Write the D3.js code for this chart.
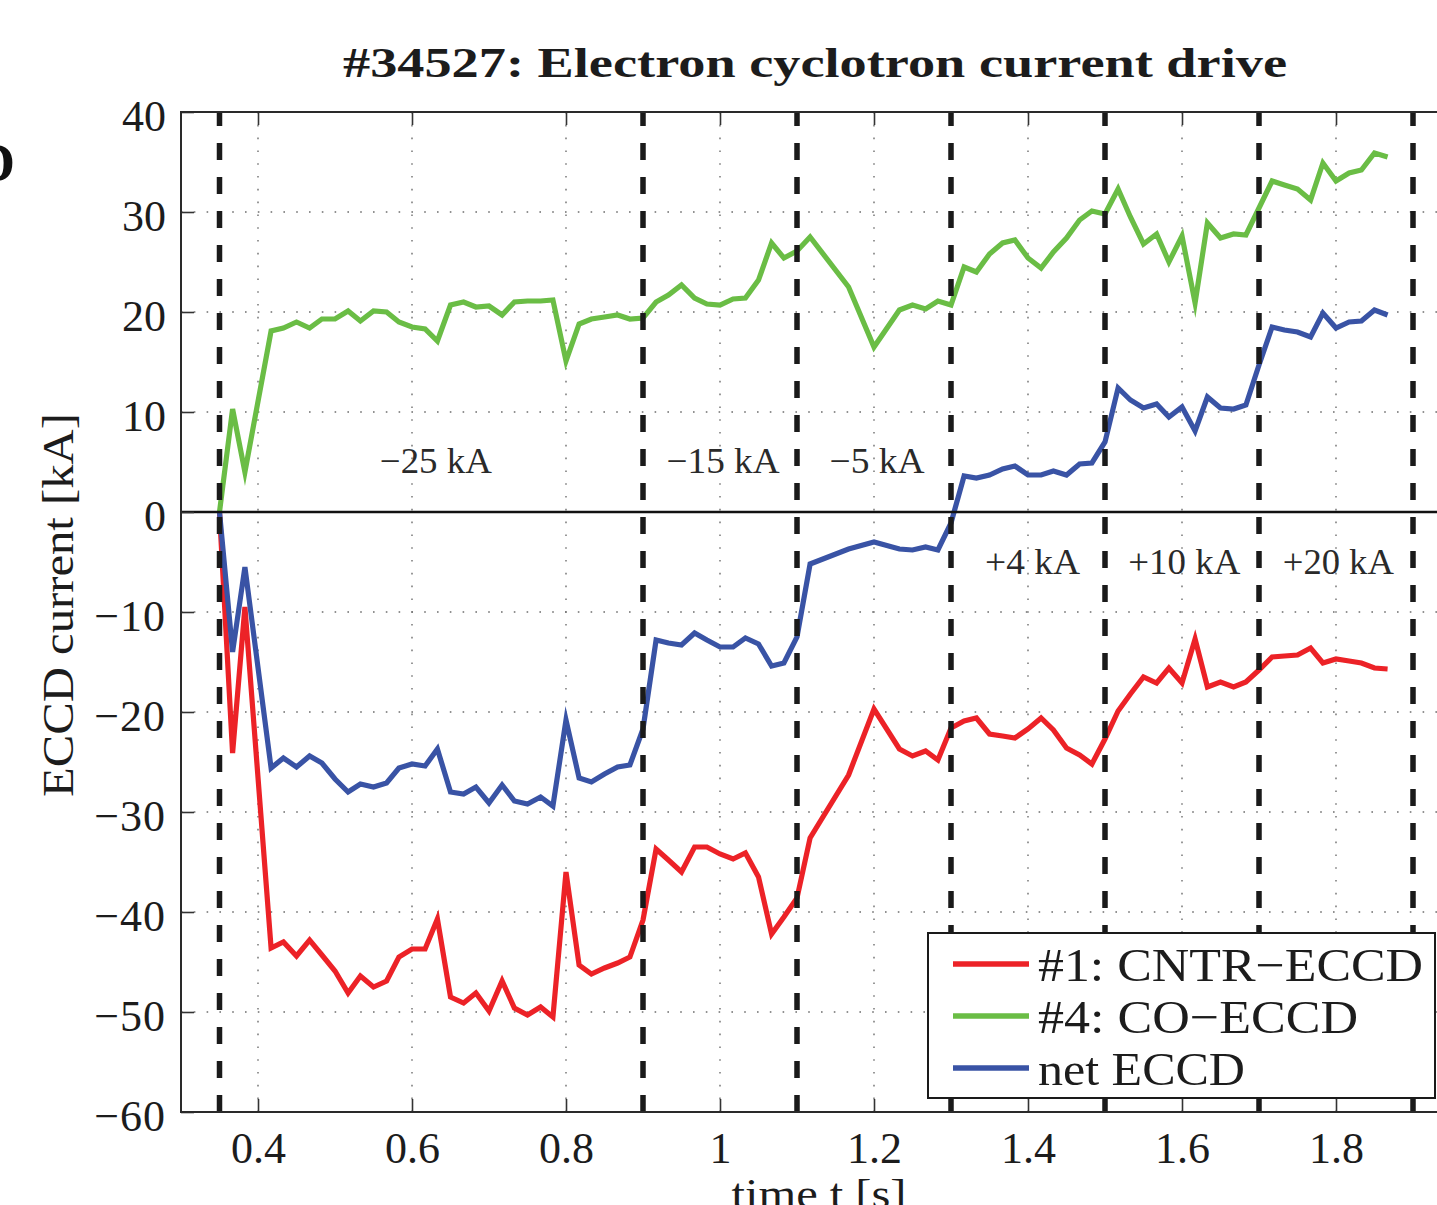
<!DOCTYPE html>
<html>
<head>
<meta charset="utf-8">
<script src="https://cdn.jsdelivr.net/npm/d3@7"></script>
<style>
  html, body { margin: 0; padding: 0; background: #fff; overflow: hidden; }
  svg { display: block; }
</style>
</head>
<body>
<svg id="chart" width="1437" height="1205"></svg>
<script>
// Sample times [s] shared by the three traces
const time = [
  0.350, 0.367, 0.383, 0.417, 0.433, 0.450, 0.467, 0.483, 0.500, 0.517,
  0.533, 0.550, 0.567, 0.583, 0.600, 0.617, 0.633, 0.650, 0.667, 0.683,
  0.700, 0.717, 0.733, 0.750, 0.767, 0.783, 0.800, 0.817, 0.833, 0.850,
  0.867, 0.883, 0.900, 0.917, 0.933, 0.950, 0.967, 0.983, 1.000, 1.017,
  1.033, 1.050, 1.067, 1.083, 1.100, 1.117, 1.167, 1.200, 1.233, 1.250,
  1.267, 1.283, 1.300, 1.317, 1.333, 1.350, 1.367, 1.383, 1.400, 1.417,
  1.433, 1.450, 1.467, 1.483, 1.500, 1.517, 1.533, 1.550, 1.567, 1.583,
  1.600, 1.617, 1.633, 1.650, 1.667, 1.683, 1.700, 1.717, 1.733, 1.750,
  1.767, 1.783, 1.800, 1.817, 1.833, 1.850, 1.867
];

// Gyrotron #1, counter-current drive [kA]
const cntrEccd = [
  0.0, -24.1, -9.5, -43.6, -43.0, -44.4, -42.8, -44.3, -45.9, -48.1,
  -46.4, -47.5, -46.9, -44.5, -43.7, -43.7, -40.7, -48.5, -49.1, -48.1,
  -49.9, -46.9, -49.6, -50.3, -49.5, -50.5, -36.0, -45.3, -46.2, -45.6,
  -45.1, -44.5, -40.8, -33.7, -34.8, -36.0, -33.5, -33.5, -34.2, -34.7,
  -34.1, -36.5, -42.2, -40.5, -38.6, -32.6, -26.3, -19.7, -23.7, -24.4,
  -23.9, -24.8, -21.6, -20.9, -20.6, -22.2, -22.4, -22.6, -21.7, -20.6,
  -21.8, -23.6, -24.3, -25.2, -22.7, -19.9, -18.2, -16.5, -17.1, -15.6,
  -17.1, -12.7, -17.5, -17.0, -17.5, -17.0, -15.8, -14.5, -14.4, -14.3,
  -13.6, -15.1, -14.7, -14.9, -15.1, -15.6, -15.7
];

// Gyrotron #4, co-current drive [kA]
const coEccd = [
  0.0, 10.3, 4.0, 18.1, 18.4, 19.0, 18.4, 19.3, 19.3, 20.1,
  19.1, 20.1, 20.0, 19.0, 18.5, 18.3, 17.1, 20.7, 21.0, 20.5,
  20.6, 19.7, 21.0, 21.1, 21.1, 21.2, 15.1, 18.8, 19.3, 19.5,
  19.7, 19.3, 19.4, 21.0, 21.7, 22.7, 21.4, 20.8, 20.7, 21.3,
  21.4, 23.2, 26.9, 25.4, 26.1, 27.5, 22.5, 16.5, 20.2, 20.7,
  20.3, 21.1, 20.7, 24.5, 24.0, 25.8, 26.9, 27.2, 25.4, 24.4,
  26.0, 27.4, 29.2, 30.1, 29.8, 32.3, 29.5, 26.8, 27.8, 25.0,
  27.6, 20.9, 28.9, 27.4, 27.8, 27.7, 30.4, 33.1, 32.7, 32.3,
  31.2, 34.9, 33.1, 33.9, 34.2, 35.9, 35.5
];

// Net driven current [kA]
const netEccd = [
  0.0, -14.0, -5.5, -25.6, -24.6, -25.5, -24.4, -25.1, -26.7, -28.0,
  -27.2, -27.5, -27.1, -25.6, -25.2, -25.4, -23.7, -28.0, -28.2, -27.5,
  -29.1, -27.3, -28.9, -29.2, -28.5, -29.4, -20.8, -26.6, -27.0, -26.2,
  -25.5, -25.3, -21.7, -12.8, -13.1, -13.3, -12.1, -12.8, -13.5, -13.5,
  -12.6, -13.2, -15.4, -15.1, -12.5, -5.2, -3.7, -3.0, -3.7, -3.8,
  -3.5, -3.8, -1.1, 3.6, 3.4, 3.7, 4.3, 4.6, 3.7, 3.7,
  4.1, 3.7, 4.8, 4.9, 7.0, 12.4, 11.2, 10.4, 10.8, 9.5,
  10.5, 8.1, 11.5, 10.4, 10.3, 10.7, 14.7, 18.5, 18.2, 18.0,
  17.5, 19.9, 18.4, 19.0, 19.1, 20.2, 19.7
];

// Times at which the requested net current changes [s]
const phaseBounds = [0.35, 0.9, 1.1, 1.3, 1.5, 1.7, 1.9];

// Requested net current for each phase, with label anchor (t, kA)
const phaseLabels = ["\u221225 kA", "\u221215 kA", "\u22125 kA", "+4 kA", "+10 kA", "+20 kA"];
const phaseLabelT = [0.631, 1.004, 1.204, 1.406, 1.603, 1.803];
const phaseLabelV = [3.9, 3.9, 3.9, -6.2, -6.2, -6.2];
const phaseLabelWidth = [112, 113, 95, 95, 112, 111];

const xTicks = [0.4, 0.6, 0.8, 1.0, 1.2, 1.4, 1.6, 1.8];
const yTicks = [-60, -50, -40, -30, -20, -10, 0, 10, 20, 30, 40];

const seriesNames = ["#1: CNTR\u2212ECCD", "#4: CO\u2212ECCD", "net ECCD"];
const seriesColors = ["#ec2227", "#6abd45", "#3953a5"];
const seriesValues = [cntrEccd, coEccd, netEccd];

(function draw() {
  const svg = d3.select("#chart");
  const plotLeft = 181, plotTop = 112, plotBottom = 1112;
  const x = d3.scaleLinear().domain([0.3, 1.95]).range([plotLeft, plotLeft + 1.65 * 770]);
  const y = d3.scaleLinear().domain([-60, 40]).range([plotBottom, plotTop]);
  const plotRight = x.range()[1];
  const serif = "'Liberation Serif', 'Times New Roman', serif";
  const ink = "#1c1c1c";

  // dotted grid
  const grid = svg.append("g").attr("stroke", "#6e6e6e").attr("stroke-width", 1.4)
    .attr("stroke-dasharray", "1.6 11.2");
  grid.selectAll(".gx").data(xTicks).join("line")
    .attr("x1", d => x(d)).attr("x2", d => x(d)).attr("y1", plotTop).attr("y2", plotBottom);
  grid.selectAll(".gy").data(yTicks.slice(1, -1)).join("line")
    .attr("x1", plotLeft).attr("x2", plotRight).attr("y1", d => y(d)).attr("y2", d => y(d));

  // traces
  const line = d3.line().x((d, i) => x(time[i])).y(d => y(d));
  svg.append("g").selectAll("path").data(seriesValues).join("path")
    .attr("d", d => line(d))
    .attr("fill", "none")
    .attr("stroke", (d, i) => seriesColors[i])
    .attr("stroke-width", 5.2)
    .attr("stroke-linejoin", "miter")
    .attr("stroke-miterlimit", 6);

  // phase boundaries
  svg.append("g").selectAll("line").data(phaseBounds).join("line")
    .attr("x1", d => x(d)).attr("x2", d => x(d))
    .attr("y1", plotBottom).attr("y2", plotTop)
    .attr("stroke", "#1a1a1a").attr("stroke-width", 5.5)
    .attr("stroke-dasharray", "17 17");

  // zero line
  svg.append("line")
    .attr("x1", plotLeft).attr("x2", plotRight).attr("y1", y(0)).attr("y2", y(0))
    .attr("stroke", "#111").attr("stroke-width", 2.4);

  // axes with inward ticks
  const fmtX = d => String(+d.toFixed(1));
  const fmtY = d => d < 0 ? "\u2212" + Math.abs(d) : String(d);

  const gx = svg.append("g").attr("transform", `translate(0,${plotBottom})`)
    .call(d3.axisBottom(x).tickValues(xTicks).tickFormat(fmtX).tickSizeInner(-13).tickSizeOuter(0));
  const gxTop = svg.append("g").attr("transform", `translate(0,${plotTop})`)
    .call(d3.axisTop(x).tickValues(xTicks).tickFormat("").tickSizeInner(-13).tickSizeOuter(0));
  const gy = svg.append("g").attr("transform", `translate(${plotLeft},0)`)
    .call(d3.axisLeft(y).tickValues(yTicks).tickFormat(fmtY).tickSizeInner(-13).tickSizeOuter(0));

  [gx, gxTop, gy].forEach(g => {
    g.select(".domain").remove();
    g.selectAll(".tick line").attr("stroke", "#333").attr("stroke-width", 1.6);
  });
  gx.selectAll("text").attr("y", 51).attr("dy", null)
    .attr("font-family", serif).attr("font-size", 44).attr("fill", ink);
  gy.selectAll("text").attr("x", -15).attr("dy", null).attr("y", 18)
    .attr("font-family", serif).attr("font-size", 44).attr("fill", ink)
    .attr("letter-spacing", d => d < 0 ? 1 : 0);

  // frame
  svg.append("rect")
    .attr("x", plotLeft).attr("y", plotTop)
    .attr("width", plotRight - plotLeft).attr("height", plotBottom - plotTop)
    .attr("fill", "none").attr("stroke", "#2a2a2a").attr("stroke-width", 2);

  // phase labels
  svg.append("g").selectAll("text").data(phaseLabels).join("text")
    .attr("x", (d, i) => x(phaseLabelT[i]))
    .attr("y", (d, i) => y(phaseLabelV[i]))
    .attr("text-anchor", "middle")
    .attr("textLength", (d, i) => phaseLabelWidth[i])
    .attr("lengthAdjust", "spacingAndGlyphs")
    .attr("font-family", serif).attr("font-size", 35).attr("fill", "#2a2a2a")
    .text(d => d);

  // title
  svg.append("text")
    .attr("x", 815).attr("y", 77).attr("text-anchor", "middle")
    .attr("textLength", 944).attr("lengthAdjust", "spacingAndGlyphs")
    .attr("font-family", serif).attr("font-weight", "bold").attr("font-size", 42)
    .attr("fill", ink)
    .text("#34527: Electron cyclotron current drive");

  // axis titles
  svg.append("text")
    .attr("transform", "translate(73,605) rotate(-90)")
    .attr("text-anchor", "middle")
    .attr("textLength", 384).attr("lengthAdjust", "spacingAndGlyphs")
    .attr("font-family", serif).attr("font-size", 44).attr("fill", ink)
    .text("ECCD current [kA]");
  svg.append("text")
    .attr("x", 819).attr("y", 1208).attr("text-anchor", "middle")
    .attr("textLength", 175).attr("lengthAdjust", "spacingAndGlyphs")
    .attr("font-family", serif).attr("font-size", 42).attr("fill", ink)
    .text("time t [s]");

  // panel letter at the left margin
  svg.append("text")
    .attr("x", 15).attr("y", 181).attr("text-anchor", "end")
    .attr("font-family", serif).attr("font-weight", "bold").attr("font-size", 54)
    .attr("fill", "#111")
    .text("D");

  // legend
  const legend = svg.append("g");
  legend.append("rect")
    .attr("x", 928).attr("y", 933).attr("width", 507).attr("height", 165)
    .attr("fill", "#fff").attr("stroke", "#1a1a1a").attr("stroke-width", 2);
  const legendTextWidth = [385, 320, 207];
  const rows = legend.selectAll(".row").data(seriesNames).join("g")
    .attr("transform", (d, i) => `translate(0,${964 + i * 52})`);
  rows.append("line")
    .attr("x1", 953).attr("x2", 1029).attr("y1", 0).attr("y2", 0)
    .attr("stroke", (d, i) => seriesColors[i]).attr("stroke-width", 5.6);
  rows.append("text")
    .attr("x", 1038).attr("y", 17)
    .attr("textLength", (d, i) => legendTextWidth[i]).attr("lengthAdjust", "spacingAndGlyphs")
    .attr("font-family", serif).attr("font-size", 47).attr("fill", ink)
    .text(d => d);
})();
</script>
</body>
</html>
